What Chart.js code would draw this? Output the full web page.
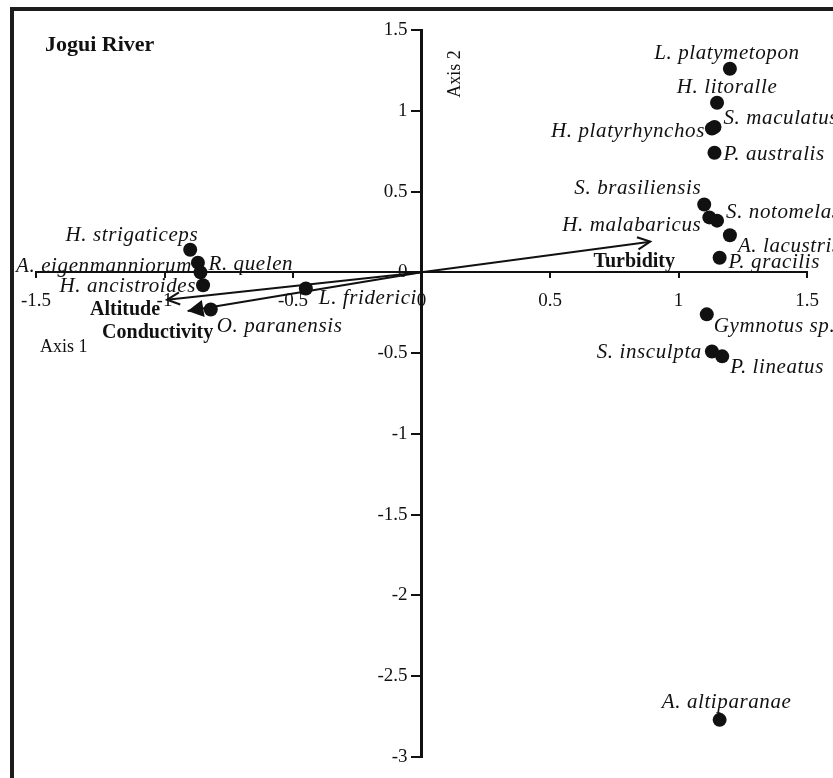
<!DOCTYPE html>
<html>
<head>
<meta charset="utf-8">
<script src="https://cdn.jsdelivr.net/npm/chart.js@4.4.1/dist/chart.umd.min.js"></script>
<style>
  html, body { margin: 0; padding: 0; background: #fff; overflow: hidden; }
  #wrap { position: relative; width: 833px; height: 778px; overflow: hidden; }
  #frame { position: absolute; left: 10px; top: 7px; width: 1000px; height: 1000px; border: 4px solid #1c1c1c; }
  #ordination { position: absolute; left: 0; top: 0; }
</style>
</head>
<body>
<div id="wrap">
  <div id="frame"></div>
  <canvas id="ordination" width="833" height="778"></canvas>
</div>
<script>
// species scores on the two ordination axes
const species = [
  "L. platymetopon", "H. litoralle", "S. maculatus", "H. platyrhynchos", "P. australis",
  "S. brasiliensis", "H. malabaricus", "S. notomelas", "A. lacustris", "P. gracilis",
  "Gymnotus sp.", "S. insculpta", "P. lineatus", "A. altiparanae",
  "H. strigaticeps", "A. eigenmanniorum", "R. quelen", "H. ancistroides", "O. paranensis", "L. friderici"
];
const axis1 = [1.20, 1.15, 1.14, 1.13, 1.14, 1.10, 1.12, 1.15, 1.20, 1.16, 1.11, 1.13, 1.17, 1.16,
  -0.90, -0.87, -0.86, -0.85, -0.82, -0.45];
const axis2 = [1.26, 1.05, 0.90, 0.89, 0.74, 0.42, 0.34, 0.32, 0.23, 0.09, -0.26, -0.49, -0.52, -2.77,
  0.14, 0.06, 0.00, -0.08, -0.23, -0.10];

// environmental vectors
const variables = ["Turbidity", "Altitude", "Conductivity"];
const varAxis1 = [0.89, -0.99, -0.91];
const varAxis2 = [0.19, -0.17, -0.24];

const xTicks = [-1.5, -1, -0.5, 0, 0.5, 1, 1.5];
const yTicks = [-3, -2.5, -2, -1.5, -1, -0.5, 0, 0.5, 1, 1.5];

// label placement: [align, dx, dy] from the point, in pixels
const speciesLabelPos = [
  ["center", -3, -15], ["center", 10, -15], ["left", 9, -8], ["right", -7, 3], ["left", 9, 2],
  ["right", -3, -16], ["right", -8, 8], ["left", 9, -8], ["left", 8, 11], ["left", 9, 5],
  ["left", 7, 12], ["right", -10, 1], ["left", 8, 11], ["center", 7, -17],
  ["right", 8, -14], ["right", -6, 4], ["left", 8, -8], ["right", -7, 1], ["left", 6, 17], ["left", 13, 10]
];
const variableLabelPos = [["center", -16, 20], ["right", -7, 10], ["center", -30, 22]];
const arrowStyle = ["open", "open", "filled"];

const ink = "#111";
const serif = "'Liberation Serif', 'Times New Roman', serif";

const annotate = {
  id: "annotate",
  afterDatasetsDraw(chart) {
    const { ctx, scales: { x, y } } = chart;
    const x0 = x.getPixelForValue(0), y0 = y.getPixelForValue(0);
    ctx.save();
    ctx.fillStyle = ink;
    ctx.strokeStyle = ink;
    ctx.lineWidth = 2;

    // arrow heads
    variables.forEach((name, i) => {
      const x1 = x.getPixelForValue(varAxis1[i]), y1 = y.getPixelForValue(varAxis2[i]);
      const a = Math.atan2(y1 - y0, x1 - x0);
      const len = arrowStyle[i] === "open" ? 14 : 18, spread = arrowStyle[i] === "open" ? 0.45 : 0.5;
      ctx.beginPath();
      ctx.moveTo(x1 - len * Math.cos(a - spread), y1 - len * Math.sin(a - spread));
      ctx.lineTo(x1, y1);
      ctx.lineTo(x1 - len * Math.cos(a + spread), y1 - len * Math.sin(a + spread));
      if (arrowStyle[i] === "filled") { ctx.closePath(); ctx.fill(); } else { ctx.stroke(); }
    });

    ctx.textBaseline = "middle";
    // variable names
    ctx.font = "bold 20px " + serif;
    variables.forEach((name, i) => {
      const [align, dx, dy] = variableLabelPos[i];
      ctx.textAlign = align;
      ctx.fillText(name, x.getPixelForValue(varAxis1[i]) + dx, y.getPixelForValue(varAxis2[i]) + dy);
    });

    // species names
    ctx.font = "italic 21px " + serif;
    ctx.letterSpacing = "0.6px";
    species.forEach((name, i) => {
      const [align, dx, dy] = speciesLabelPos[i];
      ctx.textAlign = align;
      ctx.fillText(name, x.getPixelForValue(axis1[i]) + dx, y.getPixelForValue(axis2[i]) + dy);
    });
    ctx.letterSpacing = "0px";

    // title and axis names
    ctx.textAlign = "left";
    ctx.font = "bold 22px " + serif;
    ctx.fillText("Jogui River", 45, 45);
    ctx.font = "18px " + serif;
    ctx.fillText("Axis 1", 40, 347);
    ctx.translate(455, 74);
    ctx.rotate(-Math.PI / 2);
    ctx.textAlign = "center";
    ctx.fillText("Axis 2", 0, 0);
    ctx.restore();
  }
};

const tickFont = { family: serif, size: 19 };

new Chart(document.getElementById("ordination"), {
  type: "scatter",
  data: {
    datasets: [
      {
        label: "Species",
        data: species.map((s, i) => ({ x: axis1[i], y: axis2[i] })),
        pointRadius: 7,
        pointBackgroundColor: ink,
        pointBorderWidth: 0,
        order: 0
      },
      ...variables.map((v, i) => ({
        label: v,
        type: "line",
        data: [{ x: 0, y: 0 }, { x: varAxis1[i], y: varAxis2[i] }],
        borderColor: ink,
        borderWidth: 2,
        pointRadius: 0,
        fill: false,
        order: 1
      }))
    ]
  },
  options: {
    responsive: false,
    animation: false,
    layout: { padding: { left: 36, right: 26, top: 30, bottom: 21 } },
    plugins: { legend: { display: false }, tooltip: { enabled: false } },
    scales: {
      x: {
        type: "linear",
        position: { y: 0 },
        min: -1.5,
        max: 1.5,
        afterBuildTicks: s => { s.ticks = xTicks.map(v => ({ value: v })); },
        afterFit: s => { s.height = 0; },
        grid: { drawOnChartArea: false, tickLength: 5, color: ink, lineWidth: 2 },
        border: { color: ink, width: 2 },
        ticks: { font: tickFont, color: ink, padding: 12, autoSkip: false, maxRotation: 0, callback: v => String(v) }
      },
      y: {
        type: "linear",
        position: "center", // x range is symmetric, so the centre is x = 0
        min: -3,
        max: 1.5,
        afterBuildTicks: s => { s.ticks = yTicks.map(v => ({ value: v })); },
        afterFit: s => { s.width = 0; },
        grid: { drawOnChartArea: false, tickLength: 9, color: ink, lineWidth: 2 },
        border: { color: ink, width: 3 },
        ticks: { font: tickFont, color: ink, padding: 5, autoSkip: false, callback: v => String(v) }
      }
    }
  },
  plugins: [annotate]
});
</script>
</body>
</html>
